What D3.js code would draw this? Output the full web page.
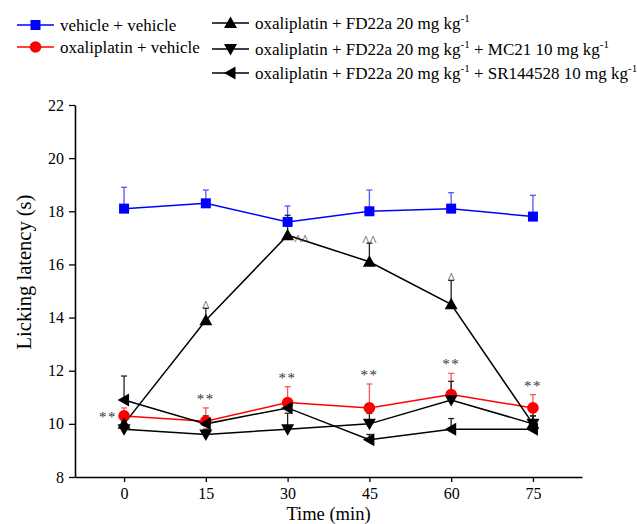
<!DOCTYPE html>
<html>
<head>
<meta charset="utf-8">
<script src="https://cdn.jsdelivr.net/npm/d3@7"></script>
<style>
    body { margin: 0; background: #fff; }
    svg text { font-family: "Liberation Serif", "Times New Roman", serif; }
</style>
</head>
<body>
<div class="viz"></div>
<script>
// time points (min)
const times = [0, 15, 30, 45, 60, 75];

// group means and upper SEM
const vehVeh = [18.1, 18.3, 17.6, 18.0, 18.1, 17.8];
const vehVehErr = [0.8, 0.5, 0.6, 0.8, 0.6, 0.8];
const oxVeh = [10.3, 10.1, 10.8, 10.6, 11.1, 10.6];
const oxVehErr = [0.3, 0.5, 0.6, 0.9, 0.8, 0.5];
const fd22a = [10.0, 13.9, 17.1, 16.1, 14.5, 10.0];
const fd22aErr = [0.2, 0.45, 0.75, 0.7, 0.9, 0.5];
const fdMc21 = [9.8, 9.6, 9.8, 10.0, 10.9, 10.0];
const fdMc21Err = [0.3, 0.2, 0.6, 0.4, 0.7, 0.3];
const fdSr = [10.9, 10.0, 10.6, 9.4, 9.8, 9.8];
const fdSrErr = [0.9, 0.3, 0.3, 0.2, 0.4, 0.5];

// significance marks
const starMarks = ["**", "**", "**", "**", "**", "**"];
const caretMarks = ["", "^", "^^", "^^", "^", ""];

const yTicks = [8, 10, 12, 14, 16, 18, 20, 22];

const series = [
    { name: "vehicle + vehicle", vals: vehVeh, err: vehVehErr, color: "#0000ff", errColor: "#5555ff", shape: "square" },
    { name: "oxaliplatin + vehicle", vals: oxVeh, err: oxVehErr, color: "#ff0000", errColor: "#ff5555", shape: "circle" },
    { name: "oxaliplatin + FD22a 20 mg kg", extra: "", vals: fd22a, err: fd22aErr, color: "#000", errColor: "#222", shape: "up" },
    { name: "oxaliplatin + FD22a 20 mg kg", extra: " + MC21 10 mg kg", vals: fdMc21, err: fdMc21Err, color: "#000", errColor: "#222", shape: "down" },
    { name: "oxaliplatin + FD22a 20 mg kg", extra: " + SR144528 10 mg kg", vals: fdSr, err: fdSrErr, color: "#000", errColor: "#222", shape: "left" },
];

const SERIF = "Liberation Serif";
const W = 637, H = 524;
const svg = d3.select(".viz").append("svg").attr("width", W).attr("height", H)
    .attr("font-family", SERIF);

const x = d3.scaleLinear().domain([-9, 84]).range([75, 582]);
const y = d3.scaleLinear().domain([8, 22]).range([477, 105]);

function markerPath(shape) {
    switch (shape) {
        case "square": return "M-5,-5H5V5H-5Z";
        case "up": return "M0,-6.5L6.5,5H-6.5Z";
        case "down": return "M0,6.5L6.5,-5H-6.5Z";
        case "left": return "M-6.5,0L5,-6.5V6.5Z";
    }
}

function drawMarker(g, shape, color) {
    if (shape === "circle") {
        g.append("circle").attr("r", 5.8).attr("fill", color);
    } else {
        g.append("path").attr("d", markerPath(shape)).attr("fill", color);
    }
}

// axes
var yAxis = svg.append("g")
    .attr("transform", `translate(${x.range()[0]},0)`)
    .call(d3.axisLeft(y).tickValues(yTicks).tickSize(6).tickSizeOuter(0).tickPadding(5));
var xAxis = svg.append("g")
    .attr("transform", `translate(0,${y.range()[0]})`)
    .call(d3.axisBottom(x).tickValues(times).tickSize(5).tickSizeOuter(0).tickPadding(6));
[yAxis, xAxis].forEach(a => {
    a.attr("font-family", SERIF).attr("font-size", 16);
    a.selectAll("path.domain").attr("stroke", "#000").attr("stroke-width", 1.6);
    a.selectAll(".tick line").attr("stroke", "#000").attr("stroke-width", 1.3);
    a.selectAll("text").attr("fill", "#000");
});

svg.append("text")
    .attr("transform", `translate(31,272) rotate(-90)`)
    .attr("text-anchor", "middle")
    .attr("font-size", 20.5)
    .text("Licking latency (s)");

svg.append("text")
    .attr("x", (x(0) + x(75)) / 2)
    .attr("y", 520)
    .attr("text-anchor", "middle")
    .attr("font-size", 18.5)
    .text("Time (min)");

var line = d3.line().x(d => x(d[0])).y(d => y(d[1]));

// lines
series.forEach(s => {
    svg.append("path")
        .datum(times.map((t, i) => [t, s.vals[i]]))
        .attr("d", line)
        .attr("fill", "none")
        .attr("stroke", s.color)
        .attr("stroke-width", 1.5);
});

// error bars (upper only) and markers
series.forEach(s => {
    var g = svg.append("g");
    times.forEach((t, i) => {
        var cx = x(t), top = y(s.vals[i] + s.err[i]);
        g.append("line").attr("x1", cx).attr("x2", cx)
            .attr("y1", y(s.vals[i])).attr("y2", top)
            .attr("stroke", s.errColor).attr("stroke-width", 1.3);
        g.append("line").attr("x1", cx - 3).attr("x2", cx + 3)
            .attr("y1", top).attr("y2", top)
            .attr("stroke", s.errColor).attr("stroke-width", 1.3);
    });
});
series.forEach(s => {
    times.forEach((t, i) => {
        var m = svg.append("g").attr("transform", `translate(${x(t)},${y(s.vals[i])})`);
        drawMarker(m, s.shape, s.color);
    });
});

// significance annotations
times.forEach((t, i) => {
    var ax, ay;
    if (i === 0) {
        ax = x(t) - 16; ay = y(oxVeh[i]) + 6;
    } else {
        ax = x(t); ay = y(oxVeh[i] + oxVehErr[i]) - 4;
    }
    svg.append("text").attr("x", ax).attr("y", ay)
        .attr("text-anchor", "middle").attr("font-size", 15)
        .attr("fill", "#333").attr("letter-spacing", 1.5)
        .text(starMarks[i]);
    if (caretMarks[i]) {
        var cx = i === 2 ? x(t) + 14 : x(t);
        var cy = i === 2 ? y(fd22a[i]) + 2 : y(fd22a[i] + fd22aErr[i]) - 5;
        svg.append("text").attr("x", cx).attr("y", cy + 8)
            .attr("text-anchor", "middle").attr("font-size", 15)
            .attr("fill", "#444")
            .text(caretMarks[i]);
    }
});

// legend
var legendPos = [
    { x: 17, y: 25 }, { x: 17, y: 47 },
    { x: 212, y: 23 }, { x: 212, y: 49 }, { x: 212, y: 73 },
];
series.forEach((s, i) => {
    var p = legendPos[i];
    var lg = svg.append("g").attr("transform", `translate(${p.x},${p.y})`);
    lg.append("line").attr("x1", 0).attr("x2", 37).attr("stroke", s.color).attr("stroke-width", 1.5);
    var m = lg.append("g").attr("transform", "translate(18.5,0)");
    drawMarker(m, s.shape, s.color);
    var t = lg.append("text").attr("x", 43).attr("y", 6).attr("font-size", 17);
    if (s.extra === undefined) {
        t.text(s.name);
    } else {
        t.append("tspan").text(s.name);
        t.append("tspan").attr("dy", -7).attr("font-size", 11).text("-1");
        if (s.extra) {
            t.append("tspan").attr("dy", 7).text(s.extra);
            t.append("tspan").attr("dy", -7).attr("font-size", 11).text("-1");
        }
    }
});
</script>
</body>
</html>
